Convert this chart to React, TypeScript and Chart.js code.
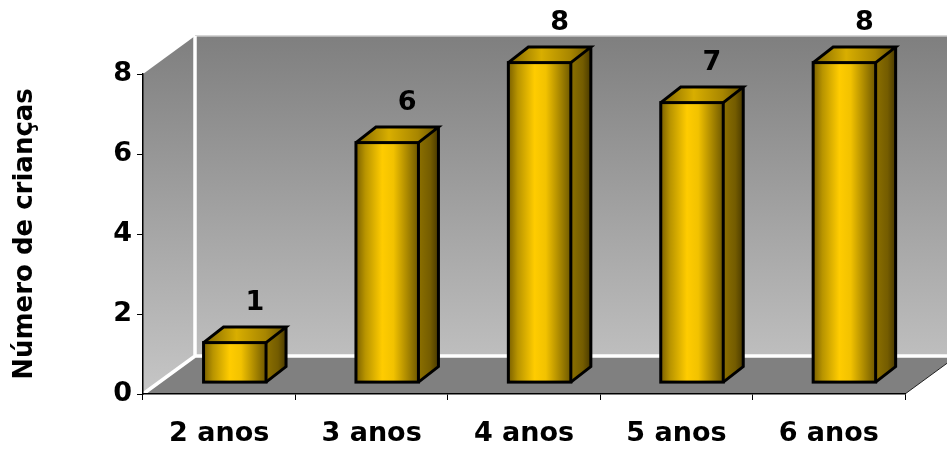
import React, { useEffect, useRef } from "react";
import { Chart, registerables } from "chart.js";

Chart.register(...registerables);

// ---- data ----
const categories = ["2 anos", "3 anos", "4 anos", "5 anos", "6 anos"];
const counts = [1, 6, 8, 7, 8];
const yTicks = [0, 2, 4, 6, 8];
const yTitle = "Número de crianças";

// ---- 3D geometry (px) ----
const WALL_DX = 52; // depth of the floor / side wall, horizontal
const WALL_DY = 38; // depth of the floor / side wall, vertical
const BAR_FRONT = 0.3; // fraction of the depth where each bar's front face sits
const BAR_DX = 20; // bar depth, horizontal
const BAR_DY = 15.5; // bar depth, vertical

const FONT = "'DejaVu Sans', sans-serif";

type Pt = [number, number];

function poly(ctx: CanvasRenderingContext2D, pts: Pt[]) {
  ctx.beginPath();
  ctx.moveTo(pts[0][0], pts[0][1]);
  for (let i = 1; i < pts.length; i++) ctx.lineTo(pts[i][0], pts[i][1]);
  ctx.closePath();
}

// Back wall, side wall and floor of the 3D box
const roomPlugin = {
  id: "room3d",
  beforeDraw(chart: any) {
    const { ctx, chartArea } = chart;
    const { left: L, right: R, top: T, bottom: B } = chartArea;
    const dx = WALL_DX;
    const dy = WALL_DY;
    ctx.save();

    const wallGrad = ctx.createLinearGradient(0, T - dy, 0, B);
    wallGrad.addColorStop(0, "#7f7f7f");
    wallGrad.addColorStop(1, "#c6c6c6");

    // side wall
    ctx.fillStyle = wallGrad;
    poly(ctx, [
      [L, T],
      [L + dx, T - dy],
      [L + dx, B - dy],
      [L, B],
    ]);
    ctx.fill();

    // back wall
    const backGrad = ctx.createLinearGradient(0, T - dy, 0, B - dy);
    backGrad.addColorStop(0, "#7f7f7f");
    backGrad.addColorStop(1, "#bebebe");
    ctx.fillStyle = backGrad;
    ctx.fillRect(L + dx, T - dy, R + dx - (L + dx), B - T);

    // top edge of the back wall
    ctx.strokeStyle = "#c8c8c8";
    ctx.lineWidth = 1.5;
    ctx.beginPath();
    ctx.moveTo(L + dx, T - dy);
    ctx.lineTo(R + dx, T - dy);
    ctx.stroke();

    // floor
    ctx.fillStyle = "#808080";
    poly(ctx, [
      [L, B],
      [L + dx, B - dy],
      [R + dx, B - dy],
      [R, B],
    ]);
    ctx.fill();

    // white seams between planes
    ctx.strokeStyle = "#ffffff";
    ctx.lineWidth = 3.5;
    ctx.lineJoin = "miter";
    ctx.beginPath();
    ctx.moveTo(L + dx, T - dy);
    ctx.lineTo(L + dx, B - dy);
    ctx.moveTo(L, B);
    ctx.lineTo(L + dx, B - dy);
    ctx.lineTo(R + dx, B - dy);
    ctx.stroke();

    // right edge of the floor
    ctx.strokeStyle = "#222";
    ctx.lineWidth = 1;
    ctx.beginPath();
    ctx.moveTo(R, B);
    ctx.lineTo(R + dx, B - dy);
    ctx.stroke();

    ctx.restore();
  },
};

// 3D gold bars and value labels, built from the bar elements' positions
const barsPlugin = {
  id: "bars3d",
  afterDatasetsDraw(chart: any) {
    const { ctx } = chart;
    const meta = chart.getDatasetMeta(0);
    const values = chart.data.datasets[0].data as number[];
    const ox = BAR_FRONT * WALL_DX;
    const oy = BAR_FRONT * WALL_DY;
    ctx.save();
    meta.data.forEach((el: any, i: number) => {
      const { x, y, base, width } = el.getProps(["x", "y", "base", "width"], true);
      const L = x - width / 2 + ox;
      const R = x + width / 2 + ox;
      const T = y - oy;
      const B = base - oy;

      // front face
      const fg = ctx.createLinearGradient(L, 0, R, 0);
      fg.addColorStop(0, "#7a6000");
      fg.addColorStop(0.15, "#b89400");
      fg.addColorStop(0.42, "#ffcc00");
      fg.addColorStop(0.6, "#f2c200");
      fg.addColorStop(0.85, "#a08000");
      fg.addColorStop(1, "#6e5800");
      ctx.fillStyle = fg;
      ctx.fillRect(L, T, R - L, B - T);

      // top face
      const tg = ctx.createLinearGradient(L, 0, R + BAR_DX, 0);
      tg.addColorStop(0, "#7e6400");
      tg.addColorStop(0.4, "#d8ae00");
      tg.addColorStop(0.75, "#a88600");
      tg.addColorStop(1, "#6a5400");
      ctx.fillStyle = tg;
      poly(ctx, [
        [L, T],
        [L + BAR_DX, T - BAR_DY],
        [R + BAR_DX, T - BAR_DY],
        [R, T],
      ]);
      ctx.fill();

      // right face
      const sg = ctx.createLinearGradient(R, 0, R + BAR_DX, 0);
      sg.addColorStop(0, "#8c7000");
      sg.addColorStop(0.6, "#745c00");
      sg.addColorStop(1, "#4a3a00");
      ctx.fillStyle = sg;
      poly(ctx, [
        [R, T],
        [R + BAR_DX, T - BAR_DY],
        [R + BAR_DX, B - BAR_DY],
        [R, B],
      ]);
      ctx.fill();

      // outlines
      ctx.strokeStyle = "#000";
      ctx.lineWidth = 3;
      ctx.lineJoin = "miter";
      ctx.strokeRect(L, T, R - L, B - T);
      ctx.beginPath();
      ctx.moveTo(L, T);
      ctx.lineTo(L + BAR_DX, T - BAR_DY);
      ctx.lineTo(R + BAR_DX, T - BAR_DY);
      ctx.lineTo(R, T);
      ctx.moveTo(R + BAR_DX, T - BAR_DY);
      ctx.lineTo(R + BAR_DX, B - BAR_DY);
      ctx.lineTo(R, B);
      ctx.stroke();

      // value label
      ctx.fillStyle = "#000";
      ctx.font = `bold 27px ${FONT}`;
      ctx.textAlign = "center";
      ctx.textBaseline = "middle";
      ctx.fillText(String(values[i]), (L + R) / 2 + BAR_DX, T - BAR_DY - 24);
    });
    ctx.restore();
  },
};

export default function App() {
  const canvasRef = useRef<HTMLCanvasElement | null>(null);

  useEffect(() => {
    const canvas = canvasRef.current;
    if (!canvas) return;
    const tickFont = { family: FONT, weight: "bold" as const, size: 27 };
    const chart = new Chart(canvas, {
      type: "bar",
      data: {
        labels: categories,
        datasets: [
          {
            data: counts,
            backgroundColor: "rgba(0,0,0,0)",
            borderWidth: 0,
            barPercentage: 0.41,
            categoryPercentage: 1,
          },
        ],
      },
      options: {
        animation: false,
        responsive: true,
        maintainAspectRatio: false,
        events: [],
        layout: { padding: { left: 0, top: 74, right: 42, bottom: 0 } },
        plugins: {
          legend: { display: false },
          tooltip: { enabled: false },
        },
        scales: {
          x: {
            offset: true,
            grid: {
              display: true,
              offset: true,
              drawOnChartArea: false,
              drawTicks: true,
              tickLength: 6,
              tickColor: "#000",
              tickWidth: 1,
            },
            border: { display: true, color: "#000", width: 1.5 },
            ticks: { color: "#000", font: tickFont, padding: 18, maxRotation: 0, autoSkip: false },
            afterFit: (scale: any) => {
              scale.height = 56;
            },
          },
          y: {
            min: 0,
            max: 8,
            afterBuildTicks: (scale: any) => {
              scale.ticks = yTicks.map((v) => ({ value: v }));
            },
            grid: {
              display: true,
              drawOnChartArea: false,
              drawTicks: true,
              tickLength: 6,
              tickColor: "#000",
              tickWidth: 1,
            },
            border: { display: true, color: "#000", width: 1.5 },
            ticks: { color: "#000", font: tickFont, padding: 5 },
            title: {
              display: true,
              text: yTitle,
              color: "#000",
              font: { family: FONT, weight: "bold", size: 26 },
              padding: { top: 10, bottom: 0 },
            },
            afterFit: (scale: any) => {
              scale.width = 143;
            },
          },
        },
      },
      plugins: [roomPlugin, barsPlugin],
    });
    return () => chart.destroy();
  }, []);

  return (
    <div
      style={{
        position: "fixed",
        left: 0,
        top: 0,
        width: 947,
        height: 450,
        background: "#ffffff",
      }}
    >
      <canvas ref={canvasRef} />
    </div>
  );
}
